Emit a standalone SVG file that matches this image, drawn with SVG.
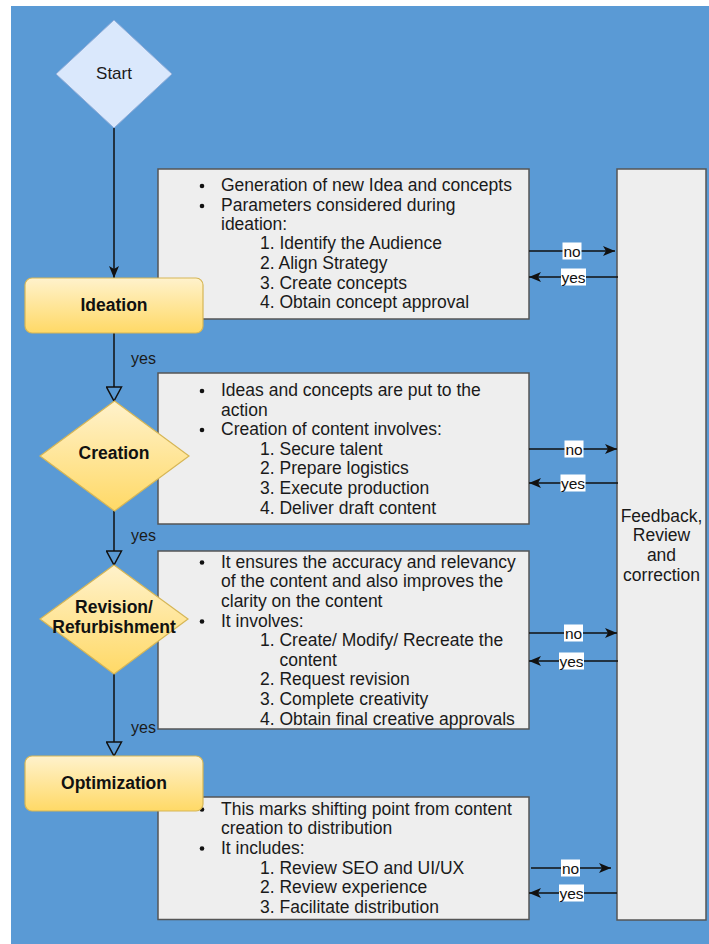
<svg xmlns="http://www.w3.org/2000/svg" width="709" height="944" viewBox="0 0 709 944">
<style>
  text { font-family: "Liberation Sans", Arial, sans-serif; fill: #1a1a1a; }
  .box { fill: #eeeeee; stroke: #555555; stroke-width: 1.5; }
  .bt { font-size: 17.5px; }
  .bul { fill: #111111; }
  .nodeY { fill: url(#yel); stroke: #d6b656; stroke-width: 1.2; }
  .nl { font-size: 17.5px; font-weight: bold; text-anchor: middle; fill: #111111; }
  .ln { stroke: #111111; stroke-width: 1.5; fill: none; }
  .arr { marker-end: url(#classic); }
  .opn { marker-end: url(#open); }
  .lblbg { fill: #ffffff; }
  .lbl { font-size: 15.5px; text-anchor: middle; fill: #111111; }
  .vy { font-size: 16px; fill: #1a1a1a; }
</style>
<defs>
  <linearGradient id="yel" x1="0" y1="0" x2="0" y2="1">
    <stop offset="0" stop-color="#fff2cc"/>
    <stop offset="1" stop-color="#ffd966"/>
  </linearGradient>
  <marker id="classic" viewBox="0 0 12 10" refX="12" refY="5" markerWidth="12" markerHeight="10" markerUnits="userSpaceOnUse" orient="auto">
    <path d="M0,0 L12,5 L0,10 L3,5 Z" fill="#111111"/>
  </marker>
  <marker id="open" viewBox="-1 -1 17 17" refX="15" refY="7.5" markerWidth="17" markerHeight="17" markerUnits="userSpaceOnUse" orient="auto">
    <path d="M1,0 L15,7.5 L1,15 Z" fill="#5a9ad5" stroke="#111111" stroke-width="1.5"/>
  </marker>
</defs>

<rect x="11" y="6" width="698" height="938" fill="#5a9ad5"/>

<g id="box-ideation">
  <rect class="box" x="158" y="169" width="371" height="150"/>
  <circle class="bul" cx="202" cy="186" r="2.3"/>
  <circle class="bul" cx="202" cy="206" r="2.3"/>
  <text class="bt" x="221" y="191">Generation of new Idea and concepts</text>
  <text class="bt" x="221" y="211">Parameters considered during</text>
  <text class="bt" x="221" y="230">ideation:</text>
  <text class="bt" x="260" y="249">1. Identify the Audience</text>
  <text class="bt" x="260" y="269">2. Align Strategy</text>
  <text class="bt" x="260" y="289">3. Create concepts</text>
  <text class="bt" x="260" y="308">4. Obtain concept approval</text>
</g>

<g id="box-creation">
  <rect class="box" x="158" y="373" width="371" height="151"/>
  <circle class="bul" cx="202" cy="391" r="2.3"/>
  <circle class="bul" cx="202" cy="430" r="2.3"/>
  <text class="bt" x="221" y="396">Ideas and concepts are put to the</text>
  <text class="bt" x="221" y="416">action</text>
  <text class="bt" x="221" y="435">Creation of content involves:</text>
  <text class="bt" x="260" y="455">1. Secure talent</text>
  <text class="bt" x="260" y="474">2. Prepare logistics</text>
  <text class="bt" x="260" y="494">3. Execute production</text>
  <text class="bt" x="260" y="513.5">4. Deliver draft content</text>
</g>

<g id="box-revision">
  <rect class="box" x="158" y="551" width="371" height="178"/>
  <circle class="bul" cx="202" cy="562.5" r="2.3"/>
  <circle class="bul" cx="202" cy="621.5" r="2.3"/>
  <text class="bt" x="221" y="567.5">It ensures the accuracy and relevancy</text>
  <text class="bt" x="221" y="587">of the content and also improves the</text>
  <text class="bt" x="221" y="607">clarity on the content</text>
  <text class="bt" x="221" y="626.5">It involves:</text>
  <text class="bt" x="260" y="646">1. Create/ Modify/ Recreate the</text>
  <text class="bt" x="279.5" y="665.5">content</text>
  <text class="bt" x="260" y="685">2. Request revision</text>
  <text class="bt" x="260" y="705">3. Complete creativity</text>
  <text class="bt" x="260" y="724.5">4. Obtain final creative approvals</text>
</g>

<g id="box-optimization">
  <rect class="box" x="158" y="797" width="371" height="122.5"/>
  <circle class="bul" cx="202" cy="809.5" r="2.3"/>
  <circle class="bul" cx="202" cy="848.5" r="2.3"/>
  <text class="bt" x="221" y="814.5">This marks shifting point from content</text>
  <text class="bt" x="221" y="834">creation to distribution</text>
  <text class="bt" x="221" y="853.7">It includes:</text>
  <text class="bt" x="260" y="873.5">1. Review SEO and UI/UX</text>
  <text class="bt" x="260" y="893">2. Review experience</text>
  <text class="bt" x="260" y="912.5">3. Facilitate distribution</text>
</g>

<g id="node-feedback">
  <rect class="box" x="617" y="169" width="89" height="751"/>
  <text class="bt" x="661.5" y="521.5" text-anchor="middle">Feedback,</text>
  <text class="bt" x="661.5" y="541" text-anchor="middle">Review</text>
  <text class="bt" x="661.5" y="561" text-anchor="middle">and</text>
  <text class="bt" x="661.5" y="580.5" text-anchor="middle">correction</text>
</g>

<g id="connectors">
  <line class="ln arr" x1="114" y1="128" x2="114" y2="278"/>
  <line class="ln opn" x1="114" y1="333" x2="114" y2="401"/>
  <text class="vy" x="131" y="364">yes</text>
  <line class="ln opn" x1="114" y1="511" x2="114" y2="565"/>
  <text class="vy" x="131" y="541">yes</text>
  <line class="ln opn" x1="114" y1="674" x2="114" y2="756"/>
  <text class="vy" x="131" y="733">yes</text>

  <line class="ln arr" x1="529" y1="251" x2="615" y2="251"/>
  <rect class="lblbg" x="562.5" y="242.5" width="19" height="17"/>
  <text class="lbl" x="572" y="256.5">no</text>
  <line class="ln arr" x1="618" y1="277" x2="529" y2="277"/>
  <rect class="lblbg" x="561" y="268.5" width="25" height="17"/>
  <text class="lbl" x="573.5" y="282.5">yes</text>

  <line class="ln arr" x1="529" y1="449" x2="617" y2="449"/>
  <rect class="lblbg" x="564.5" y="440.5" width="19" height="17"/>
  <text class="lbl" x="574" y="454.5">no</text>
  <line class="ln arr" x1="618" y1="483" x2="529" y2="483"/>
  <rect class="lblbg" x="560.5" y="474.5" width="25" height="17"/>
  <text class="lbl" x="573" y="488.5">yes</text>

  <line class="ln arr" x1="529" y1="633" x2="617" y2="633"/>
  <rect class="lblbg" x="564" y="624.5" width="19" height="17"/>
  <text class="lbl" x="573.5" y="638.5">no</text>
  <line class="ln arr" x1="618" y1="661" x2="529" y2="661"/>
  <rect class="lblbg" x="559" y="652.5" width="25" height="17"/>
  <text class="lbl" x="571.5" y="666.5">yes</text>

  <line class="ln arr" x1="531" y1="868" x2="611" y2="868"/>
  <rect class="lblbg" x="561" y="859.5" width="19" height="17"/>
  <text class="lbl" x="570.5" y="873.5">no</text>
  <line class="ln arr" x1="617" y1="893" x2="529" y2="893"/>
  <rect class="lblbg" x="559" y="884.5" width="25" height="17"/>
  <text class="lbl" x="571.5" y="898.5">yes</text>
</g>

<g id="node-start">
  <polygon points="114,20 172,74 114,128 56,74" fill="#dae8fc" stroke="#8eacd8" stroke-width="1"/>
  <text x="114" y="79" font-size="17px" text-anchor="middle" fill="#1a1a1a">Start</text>
</g>

<g id="node-ideation">
  <rect class="nodeY" x="25" y="278" width="178" height="55" rx="7"/>
  <text class="nl" x="114" y="311">Ideation</text>
</g>

<g id="node-creation">
  <polygon class="nodeY" points="114.5,401 189,456 114.5,511 40,456"/>
  <text class="nl" x="114" y="459">Creation</text>
</g>

<g id="node-revision">
  <polygon class="nodeY" points="114,565 188,619 114,674 40,619"/>
  <text class="nl" x="114" y="612.5">Revision/</text>
  <text class="nl" x="114" y="632.5">Refurbishment</text>
</g>

<g id="node-optimization">
  <rect class="nodeY" x="25" y="756" width="178" height="55" rx="7"/>
  <text class="nl" x="114" y="789">Optimization</text>
</g>
</svg>
